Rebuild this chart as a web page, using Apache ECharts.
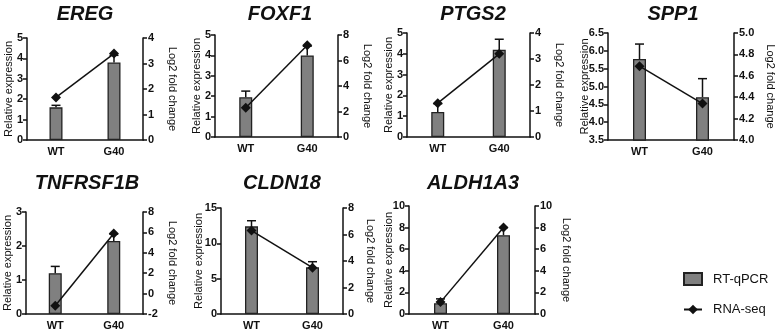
<!DOCTYPE html>
<html>
<head>
<meta charset="utf-8">
<script src="https://cdn.jsdelivr.net/npm/echarts@6/dist/echarts.min.js"></script>
<style>
  html, body { margin: 0; padding: 0; background: #fff; }
  #main { width: 777px; height: 331px; }
</style>
</head>
<body>
<div id="main"></div>
<script>
// data
var genes = ['EREG', 'FOXF1', 'PTGS2', 'SPP1', 'TNFRSF1B', 'CLDN18', 'ALDH1A3'];
var groups = ['WT', 'G40'];
var qpcrMean = [[1.6, 3.8], [1.95, 4.0], [1.2, 4.2], [5.77, 4.7], [1.2, 2.15], [12.4, 6.6], [1.0, 7.3]];
var qpcrErr = [[0.1, 0.35], [0.3, 0.45], [0.4, 0.5], [0.42, 0.52], [0.2, 0.2], [0.8, 0.8], [0.4, 0.7]];
var rnaSeq = [[1.67, 3.39], [2.3, 7.2], [1.3, 3.2], [4.69, 4.34], [-1.2, 5.9], [6.3, 3.5], [1.1, 8.0]];
// [min, max, interval]
var leftTicks = [[0, 5, 1], [0, 5, 1], [0, 5, 1], [3.5, 6.5, 0.5], [0, 3, 1], [0, 15, 5], [0, 10, 2]];
var rightTicks = [[0, 4, 1], [0, 8, 2], [0, 4, 1], [4, 5, 0.2], [-2, 8, 2], [0, 8, 2], [0, 10, 2]];

// panel layout: plot box, title centre, axis-name gaps
var layout = [
  {left: 27, top: 38, width: 116, height: 102, tx: 85, ty: 14, lg: 13, rg: 24},
  {left: 215, top: 35, width: 123, height: 102, tx: 280, ty: 14, lg: 13, rg: 24},
  {left: 407, top: 33, width: 123, height: 104, tx: 473, ty: 14, lg: 13, rg: 24},
  {left: 608, top: 33, width: 128, height: 107, tx: 673, ty: 14, lg: 18, rg: 31},
  {left: 26, top: 212, width: 117, height: 102, tx: 87, ty: 183, lg: 13, rg: 24},
  {left: 221, top: 208, width: 122, height: 108, tx: 282, ty: 183, lg: 17, rg: 22},
  {left: 409, top: 206, width: 126, height: 109, tx: 473, ty: 183, lg: 15, rg: 26}
];

var font = 'Liberation Sans';
var axisLine = {show: true, lineStyle: {color: '#111', width: 1.5}};

var grid = [], xAxis = [], yAxis = [], series = [], graphic = [];

genes.forEach(function (g, i) {
  var L = layout[i];
  var decimals = leftTicks[i][2] < 1 ? 1 : 0;
  var rdec = rightTicks[i][2] < 1 ? 1 : 0;
  grid.push({left: L.left, top: L.top, width: L.width, height: L.height});
  xAxis.push({
    type: 'category', gridIndex: i, data: groups,
    axisLine: axisLine, axisTick: {show: false},
    axisLabel: {color: '#111', fontWeight: 'bold', fontSize: 11, fontFamily: font, margin: 6}
  });
  yAxis.push({
    type: 'value', gridIndex: i, position: 'left',
    min: leftTicks[i][0], max: leftTicks[i][1], interval: leftTicks[i][2],
    axisLine: axisLine,
    axisTick: {show: true, length: 4, lineStyle: {color: '#111', width: 1.5}},
    splitLine: {show: false},
    axisLabel: {color: '#111', fontWeight: 'bold', fontSize: 11, fontFamily: font, margin: 4,
      formatter: function (v) { return v.toFixed(decimals); }},
    name: 'Relative expression', nameLocation: 'middle', nameGap: L.lg, nameMoveOverlap: false,
    nameTextStyle: {color: '#111', fontSize: 11, fontFamily: font}
  });
  yAxis.push({
    type: 'value', gridIndex: i, position: 'right',
    min: rightTicks[i][0], max: rightTicks[i][1], interval: rightTicks[i][2],
    axisLine: axisLine,
    axisTick: {show: true, length: 4, lineStyle: {color: '#111', width: 1.5}},
    splitLine: {show: false},
    axisLabel: {color: '#111', fontWeight: 'bold', fontSize: 11, fontFamily: font, margin: 5,
      formatter: function (v) { return v.toFixed(rdec); }},
    name: 'Log2 fold change', nameLocation: 'middle', nameGap: L.rg, nameRotate: -90, nameMoveOverlap: false,
    nameTextStyle: {color: '#111', fontSize: 11, fontFamily: font}
  });

  series.push({
    name: 'RT-qPCR', type: 'bar', xAxisIndex: i, yAxisIndex: 2 * i,
    barWidth: 13, data: qpcrMean[i],
    itemStyle: {color: '#808080', borderColor: '#222', borderWidth: 1.3}
  });
  series.push({
    name: 'err', type: 'custom', xAxisIndex: i, yAxisIndex: 2 * i, z: 3,
    data: qpcrMean[i].map(function (m, k) { return [k, m, qpcrErr[i][k]]; }),
    renderItem: function (params, api) {
      var base = api.coord([api.value(0), api.value(1)]);
      var top = api.coord([api.value(0), api.value(1) + api.value(2)]);
      var st = {stroke: '#111', lineWidth: 1.5};
      return {type: 'group', children: [
        {type: 'line', shape: {x1: base[0], y1: base[1], x2: top[0], y2: top[1]}, style: st},
        {type: 'line', shape: {x1: top[0] - 4.5, y1: top[1], x2: top[0] + 4.5, y2: top[1]}, style: st}
      ]};
    }
  });
  series.push({
    name: 'RNA-seq', type: 'line', xAxisIndex: i, yAxisIndex: 2 * i + 1, z: 5,
    data: rnaSeq[i], symbol: 'diamond', symbolSize: 10,
    lineStyle: {color: '#111', width: 1.5}, itemStyle: {color: '#111'}
  });

  graphic.push({
    type: 'text', x: L.tx, y: L.ty,
    style: {text: g, fontFamily: font, fontSize: 20, fontWeight: 'bold', fontStyle: 'italic',
      fill: '#111', align: 'center', verticalAlign: 'middle'}
  });
});

var chart = echarts.init(document.getElementById('main'));
chart.setOption({
  animation: false,
  grid: grid, xAxis: xAxis, yAxis: yAxis, series: series, graphic: graphic,
  legend: {
    data: [
      {name: 'RT-qPCR', icon: 'rect'},
      {name: 'RNA-seq'}
    ],
    orient: 'vertical', left: 678, top: 267,
    itemWidth: 18, itemHeight: 12, itemGap: 17,
    textStyle: {color: '#111', fontSize: 13, fontFamily: font, padding: [0, 0, 0, 6]}
  }
});
</script>
</body>
</html>
